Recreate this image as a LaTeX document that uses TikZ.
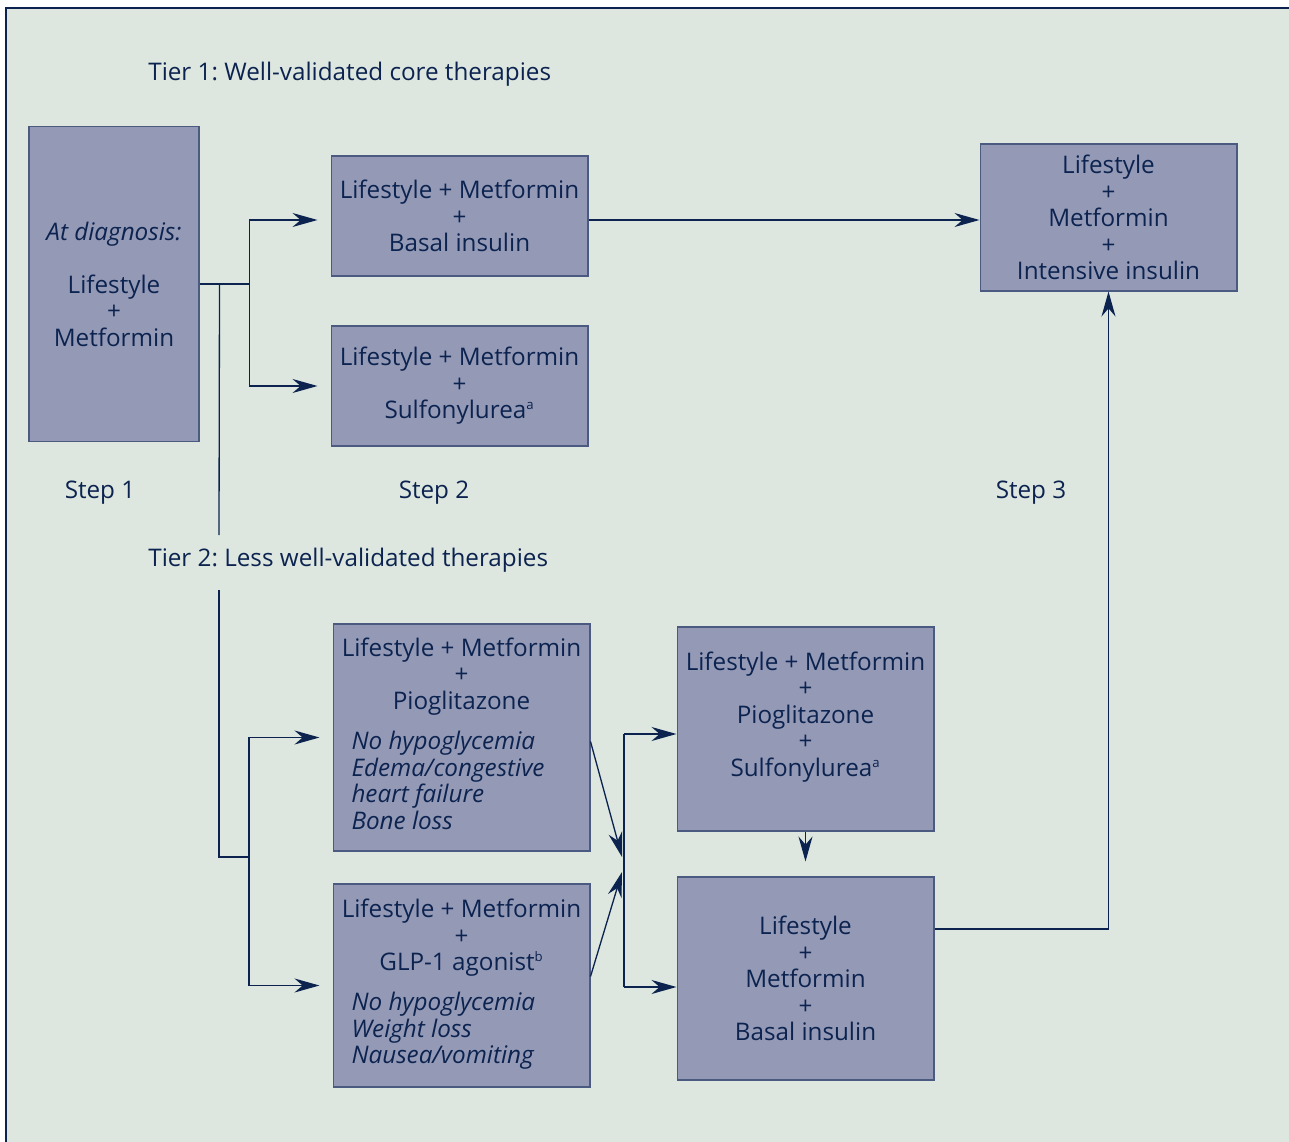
\documentclass[tikz,border=0pt]{standalone}
\usepackage{fontspec}
\setmainfont{Open Sans}
\usetikzlibrary{arrows.meta, calc}

\definecolor{panelbg}{RGB}{221,231,223}
\definecolor{boxfill}{RGB}{148,154,182}
\definecolor{boxline}{RGB}{74,90,128}
\definecolor{ink}{RGB}{12,35,80}

% italic side-effect list, left aligned inside a box
\newcommand{\sidenote}[1]{\makebox[4.4cm][l]{\itshape\begin{tabular}[t]{@{}l@{}}#1\end{tabular}}}
% small footnote mark
\newcommand{\fnmark}[1]{\textsuperscript{\fontsize{7.5}{8}\selectfont #1}}

\frenchspacing

\begin{document}
\begin{tikzpicture}[x=0.02cm, y=-0.02cm,
    font=\fontsize{13.8}{15.1}\selectfont, text=ink,
    therapy/.style={draw=boxline, fill=boxfill, line width=0.6pt, align=center,
      minimum width=5.14cm, inner sep=0pt},
    link/.style={draw=ink, line width=0.75pt},
    flow/.style={link, -{Stealth[length=0.5cm, width=0.28cm]}},
    gap/.style={shorten >=0.26cm}]

  % panel
  \useasboundingbox (0,0) rectangle (1289,1142);
  \fill[panelbg] (6,8) rectangle (1289,1142);
  \draw[ink, line width=1.2pt] (6,1142) -- (6,8) -- (1289,8);

  % tier headings
  \node[anchor=west, inner sep=0pt] (tier1) at (148,74) {Tier 1: Well-validated core therapies};
  \node[anchor=west, inner sep=0pt] (tier2) at (148,560) {Tier 2: Less well-validated therapies};

  % step labels
  \node (step1) at (100,493) {Step 1};
  \node (step2) at (434,493) {Step 2};
  \node (step3) at (1031,493) {Step 3};

  % step 1
  \node[therapy, minimum width=3.4cm, minimum height=6.32cm] (diag) at (114,284)
    {\textit{At diagnosis:}\\[15pt]Lifestyle\\+\\Metformin};

  % tier 1, step 2 and step 3
  \node[therapy, minimum height=2.4cm] (basal2) at (459.5,216)
    {Lifestyle + Metformin\\+\\Basal insulin};
  \node[therapy, minimum height=2.4cm] (sulf2) at (459.5,386)
    {Lifestyle + Metformin\\+\\Sulfonylurea\fnmark{a}};
  \node[therapy, minimum height=2.94cm] (intens3) at (1108.5,217.5)
    {Lifestyle\\+\\Metformin\\+\\Intensive insulin};

  % tier 2
  \node[therapy, minimum height=4.54cm] (pio) at (461.5,737.5)
    {Lifestyle + Metformin\\+\\Pioglitazone\\[7.7pt]%
     \sidenote{No hypoglycemia\\Edema/congestive\\heart failure\\Bone loss}};
  \node[therapy, minimum height=4.06cm] (glp) at (461.5,985.5)
    {Lifestyle + Metformin\\+\\GLP-1 agonist\fnmark{b}\\[7.7pt]%
     \sidenote{No hypoglycemia\\Weight loss\\Nausea/vomiting}};
  \node[therapy, minimum height=4.08cm] (piosu) at (805.5,729)
    {Lifestyle + Metformin\\+\\Pioglitazone\\+\\Sulfonylurea\fnmark{a}\\[0.07cm]\mbox{}};
  \node[therapy, minimum height=4.06cm] (basal3) at (805.5,978.5)
    {Lifestyle\\+\\Metformin\\+\\Basal insulin};

  % junctions
  \coordinate (split1) at ($(diag.east)+(50,0)$);
  \coordinate (tap) at ($(diag.east)+(20,0)$);
  \coordinate (basalin) at ($(basal2.west)+(0,4)$);
  \coordinate (basalout) at ($(basal2.east)+(0,4)$);
  \coordinate (breaktop) at (219,535);
  \coordinate (breakbot) at (219,590);
  \coordinate (split2) at (249,857);
  \coordinate (inA) at (622,857);
  \coordinate (inB) at (622,872);
  \coordinate (mergetop) at (624,734);
  \coordinate (mergebot) at (624,987);
  \coordinate (riser) at (1108.5,929);

  % step 1 to tier 1
  \draw[link] (diag.east) -- (split1);
  \draw[flow, gap] (split1) |- (basalin);
  \draw[flow, gap] (split1) |- (sulf2.west);

  % step 1 to tier 2
  \draw[link] (tap) -- (breaktop);
  \draw[link] (breakbot) -- (breakbot |- split2) -- (split2);
  \draw[flow, gap] (split2) |- (pio.west);
  \draw[flow, gap] (split2) |- (glp.west);

  % basal insulin to intensive insulin
  \draw[flow] (basalout) -- (basalout -| intens3.west);

  % tier 2 merge
  \draw[flow] ($(pio.east)+(0,4)$) -- (inA);
  \draw[flow] ($(glp.east)+(0,-9)$) -- (inB);
  \draw[link] (mergetop) -- (mergebot);
  \draw[flow] (mergetop) -- (mergetop -| piosu.west);
  \draw[flow] (mergebot) -- (mergebot -| basal3.west);
  \draw[flow, shorten >=0.3cm] (piosu.south) -- (basal3.north);

  % step 3
  \draw[flow] (basal3.east |- riser) -- (riser) -- (intens3.south);

\end{tikzpicture}
\end{document}
